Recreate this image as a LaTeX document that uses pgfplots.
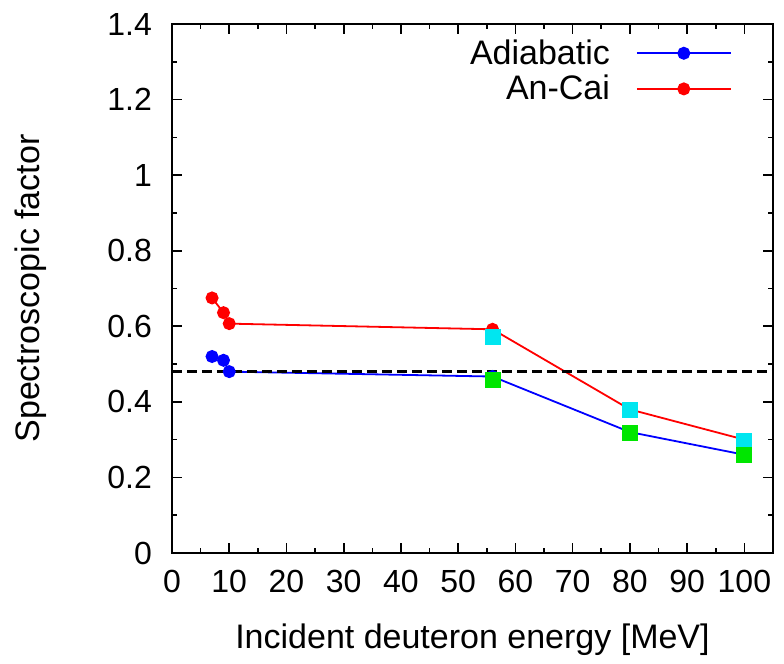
\documentclass[border=0pt]{standalone}
\usepackage{fontspec}
\setmainfont{Liberation Sans}
\usepackage{pgfplots}
\pgfplotsset{compat=1.18}
\definecolor{gpcyan}{RGB}{0,230,240}
\definecolor{gpgreen}{RGB}{0,230,0}
\begin{document}
\begin{tikzpicture}
\path[use as bounding box] (-86pt,-55.5pt) rectangle (306pt,276.5pt);
\begin{axis}[
  at={(0,0)}, anchor=south west,
  scale only axis, width=300.5pt, height=264.5pt,
  xmin=0, xmax=105, ymin=0, ymax=1.4,
  xtick={0,10,...,100}, ytick={0,0.2,...,1.4},
  minor x tick num=1, minor y tick num=1,
  tick align=inside, major tick length=5pt, minor tick length=2.5pt,
  axis line style={line width=0.8pt}, every tick/.style={line width=0.8pt, black},
  /pgf/number format/assume math mode=true,
  yticklabel style={/pgf/number format/fixed, /pgf/number format/precision=1, xshift=-6.5pt},
  xticklabel style={yshift=-5pt},
  tick label style={font=\fontsize{16}{19}\selectfont},
  xlabel={Incident deuteron energy [MeV]},
  ylabel={Spectroscopic factor},
  every axis x label/.style={at={(axis description cs:0.5,-0.163)}, anchor=center, font=\fontsize{17}{20}\selectfont},
  every axis y label/.style={at={(axis description cs:-0.2346,0.5)}, rotate=90, anchor=center, font=\fontsize{17}{20}\selectfont},
  legend plot pos=right,
  legend cell align=right,
  legend style={draw=none, fill=none, at={(axis description cs:0.932,0.911)}, anchor=east,
    font=\fontsize{17}{20}\selectfont, inner sep=0pt, column sep=12pt, row sep=2pt,
    nodes={inner sep=1pt}},
  legend image code/.code={\draw[mark repeat=2,mark phase=2,#1] plot coordinates {(0pt,0pt) (23.5pt,0pt) (47pt,0pt)};},
]
\addplot[blue, line width=0.9pt, mark=*, mark size=2.8pt, mark options={solid}]
  coordinates {(7,0.52) (9,0.51) (10,0.48) (56,0.467) (80,0.32) (100,0.26)};
\addlegendentry{Adiabatic}
\addplot[red, line width=0.9pt, mark=*, mark size=2.8pt, mark options={solid}]
  coordinates {(7,0.675) (9,0.636) (10,0.607) (56,0.592) (80,0.38) (100,0.30)};
\addlegendentry{An-Cai}
\addplot[black, line width=1.3pt, dash pattern=on 5pt off 2.5pt, forget plot]
  coordinates {(0,0.48) (105,0.48)};
\addplot[only marks, mark=square*, mark size=3.75pt, color=gpcyan, forget plot]
  coordinates {(56,0.571) (80,0.378) (100,0.297)};
\addplot[only marks, mark=square*, mark size=3.75pt, color=gpgreen, forget plot]
  coordinates {(56,0.458) (80,0.318) (100,0.259)};
\end{axis}
\end{tikzpicture}
\end{document}
